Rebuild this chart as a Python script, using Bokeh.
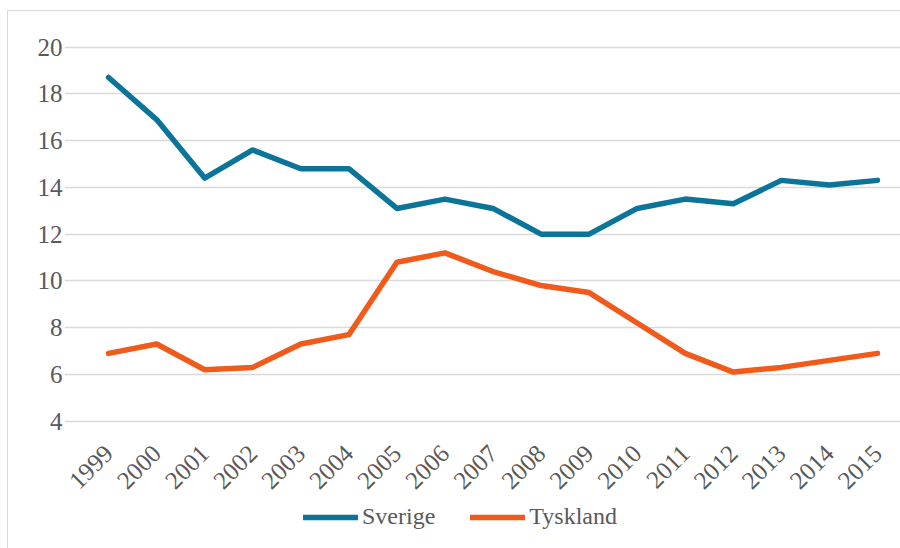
from bokeh.plotting import figure
from bokeh.models import Range1d, FixedTicker, Legend, LegendItem
from bokeh.embed import file_html
from bokeh.resources import INLINE
import math

years = [1999, 2000, 2001, 2002, 2003, 2004, 2005, 2006, 2007, 2008,
         2009, 2010, 2011, 2012, 2013, 2014, 2015]
sverige = [18.7, 16.9, 14.4, 15.6, 14.8, 14.8, 13.1, 13.5, 13.1, 12.0,
           12.0, 13.1, 13.5, 13.3, 14.3, 14.1, 14.3]
tyskland = [6.9, 7.3, 6.2, 6.3, 7.3, 7.7, 10.8, 11.2, 10.4, 9.8,
            9.5, 8.2, 6.9, 6.1, 6.3, 6.6, 6.9]
y_ticks = [4, 6, 8, 10, 12, 14, 16, 18, 20]

FONT = "Liberation Serif"
TXT = "#595959"

p = figure(width=893, height=538, output_backend="svg", toolbar_location=None,
           x_range=Range1d(1998.083, 2015.5), y_range=Range1d(-1.49, 20.07))
p.styles = {"margin-left": "7px", "margin-top": "10px",
            "border-left": "1px solid #d9d9d9", "border-top": "1px solid #d9d9d9"}
p.min_border_left = 56
p.min_border_right = 0
p.min_border_top = 34
p.min_border_bottom = 0
p.outline_line_color = None
p.background_fill_color = "white"
p.border_fill_color = "white"

p.xgrid.grid_line_color = None
p.ygrid.ticker = FixedTicker(ticks=y_ticks)
p.ygrid.grid_line_color = "#d9d9d9"
p.ygrid.grid_line_width = 1.5
p.ygrid.bounds = (1998.5, 2015.5)

p.yaxis.ticker = FixedTicker(ticks=y_ticks)
p.xaxis.ticker = FixedTicker(ticks=years)
p.xaxis.fixed_location = 4
for ax in (p.xaxis, p.yaxis):
    ax.axis_line_color = None
    ax.major_tick_line_color = None
    ax.minor_tick_line_color = None
    ax.major_tick_out = 0
    ax.major_tick_in = 0
    ax.major_label_text_font = FONT
    ax.major_label_text_font_size = "25px"
    ax.major_label_text_color = TXT
p.yaxis.major_label_standoff = 2
p.xaxis.major_label_standoff = 28
p.xaxis.major_label_orientation = math.pi / 4

r1 = p.line(years, sverige, line_color="#0b7599", line_width=5.5,
            line_join="round", line_cap="round")
r2 = p.line(years, tyskland, line_color="#f05a1a", line_width=5.5,
            line_join="round", line_cap="round")

legend = Legend(items=[LegendItem(label="Sverige", renderers=[r1]),
                       LegendItem(label="Tyskland", renderers=[r2])],
                orientation="horizontal", location=(239, 19))
legend.label_text_font = FONT
legend.label_text_font_size = "24px"
legend.label_text_color = TXT
legend.glyph_width = 55
legend.glyph_height = 20
legend.label_standoff = 4
legend.spacing = 35
legend.padding = 0
legend.margin = 0
legend.border_line_color = None
legend.background_fill_alpha = 0
p.add_layout(legend, "center")

open("out.html", "w").write(file_html(p, INLINE))
